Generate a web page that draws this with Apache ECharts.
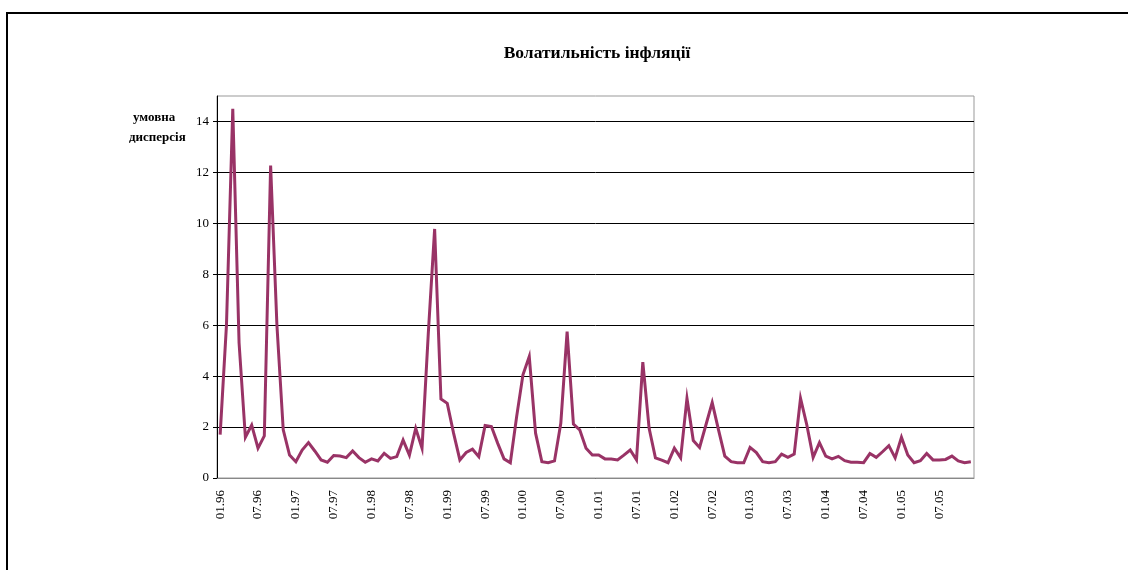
<!DOCTYPE html>
<html>
<head>
<meta charset="utf-8">
<script src="https://cdn.jsdelivr.net/npm/echarts@6/dist/echarts.min.js"></script>
<style>
  html, body { margin: 0; padding: 0; background: #fff; }
  #chart { width: 1128px; height: 570px; }
</style>
</head>
<body>
<div id="chart"></div>
<script>
// monthly observations, 01.96 .. 12.05
const years = ['96', '97', '98', '99', '00', '01', '02', '03', '04', '05'];
const months = ['01', '02', '03', '04', '05', '06', '07', '08', '09', '10', '11', '12'];
const categories = [];
years.forEach(y => months.forEach(m => categories.push(m + '.' + y)));

const yTicks = [0, 2, 4, 6, 8, 10, 12, 14];

const dispersion = [
  1.7, 6.0, 14.5, 5.3, 1.6, 2.08, 1.17, 1.65, 12.27, 6.0, 1.89, 0.9,
  0.64, 1.1, 1.39, 1.06, 0.71, 0.62, 0.88, 0.86, 0.8, 1.06, 0.8, 0.62,
  0.75, 0.67, 0.97, 0.77, 0.84, 1.49, 0.9, 1.95, 1.17, 5.7, 9.78, 3.1,
  2.93, 1.76, 0.71, 1.0, 1.13, 0.84, 2.06, 2.02, 1.36, 0.75, 0.6, 2.41,
  4.05, 4.77, 1.76, 0.64, 0.6, 0.67, 2.15, 5.75, 2.12, 1.89, 1.17, 0.9,
  0.9, 0.75, 0.75, 0.71, 0.9, 1.1, 0.71, 4.55, 1.95, 0.79, 0.7, 0.6,
  1.17, 0.79, 3.13, 1.47, 1.2, 2.08, 2.96, 1.89, 0.86, 0.64, 0.6, 0.6,
  1.2, 1.0, 0.64, 0.6, 0.64, 0.94, 0.81, 0.94, 3.13, 2.08, 0.81, 1.39,
  0.86, 0.75, 0.85, 0.68, 0.62, 0.62, 0.6, 0.96, 0.81, 1.03, 1.27, 0.79,
  1.6, 0.9, 0.6, 0.68, 0.96, 0.71, 0.71, 0.73, 0.86, 0.67, 0.6, 0.64
];

const serif = '"Liberation Serif", "DejaVu Serif", serif';
const chart = echarts.init(document.getElementById('chart'));

chart.setOption({
  animation: false,
  title: {
    text: 'Волатильність інфляції',
    left: 592,
    top: 39,
    textAlign: 'center',
    textStyle: { fontFamily: serif, fontWeight: 'bold', fontSize: 17.5, color: '#000' }
  },
  graphic: [
    {
      type: 'rect',
      shape: { x: 7, y: 13, width: 1140, height: 600 },
      style: { fill: 'none', stroke: '#000', lineWidth: 2 },
      silent: true
    },
    {
      type: 'text',
      left: 133, top: 111,
      style: { text: 'умовна', font: 'bold 13px ' + serif, fill: '#000' }
    },
    {
      type: 'text',
      left: 129, top: 131,
      style: { text: 'дисперсія', font: 'bold 13px ' + serif, fill: '#000' }
    }
  ],
  grid: {
    left: 217, right: 154, top: 96, bottom: 92,
    show: true, borderColor: '#999', borderWidth: 1, backgroundColor: '#fff'
  },
  xAxis: {
    type: 'category',
    data: categories,
    boundaryGap: true,
    axisLine: { lineStyle: { color: '#888', width: 1 } },
    axisTick: { interval: 5, length: 4, lineStyle: { color: '#000' } },
    axisLabel: {
      interval: 5, rotate: 90, margin: 12,
      fontFamily: serif, fontSize: 13, color: '#000'
    },
    splitLine: { show: false }
  },
  yAxis: {
    type: 'value',
    min: 0, max: 15,
    axisLine: { show: true, lineStyle: { color: '#000', width: 1 } },
    axisTick: { show: true, length: 4, customValues: yTicks, lineStyle: { color: '#000' } },
    axisLabel: {
      customValues: yTicks,
      fontFamily: serif, fontSize: 13, color: '#000', margin: 8
    },
    splitLine: { lineStyle: { color: '#000', width: 1 } }
  },
  series: [{
    type: 'line',
    data: dispersion,
    symbol: 'none',
    lineStyle: { color: '#993366', width: 3, join: 'miter' }
  }]
});
</script>
</body>
</html>
